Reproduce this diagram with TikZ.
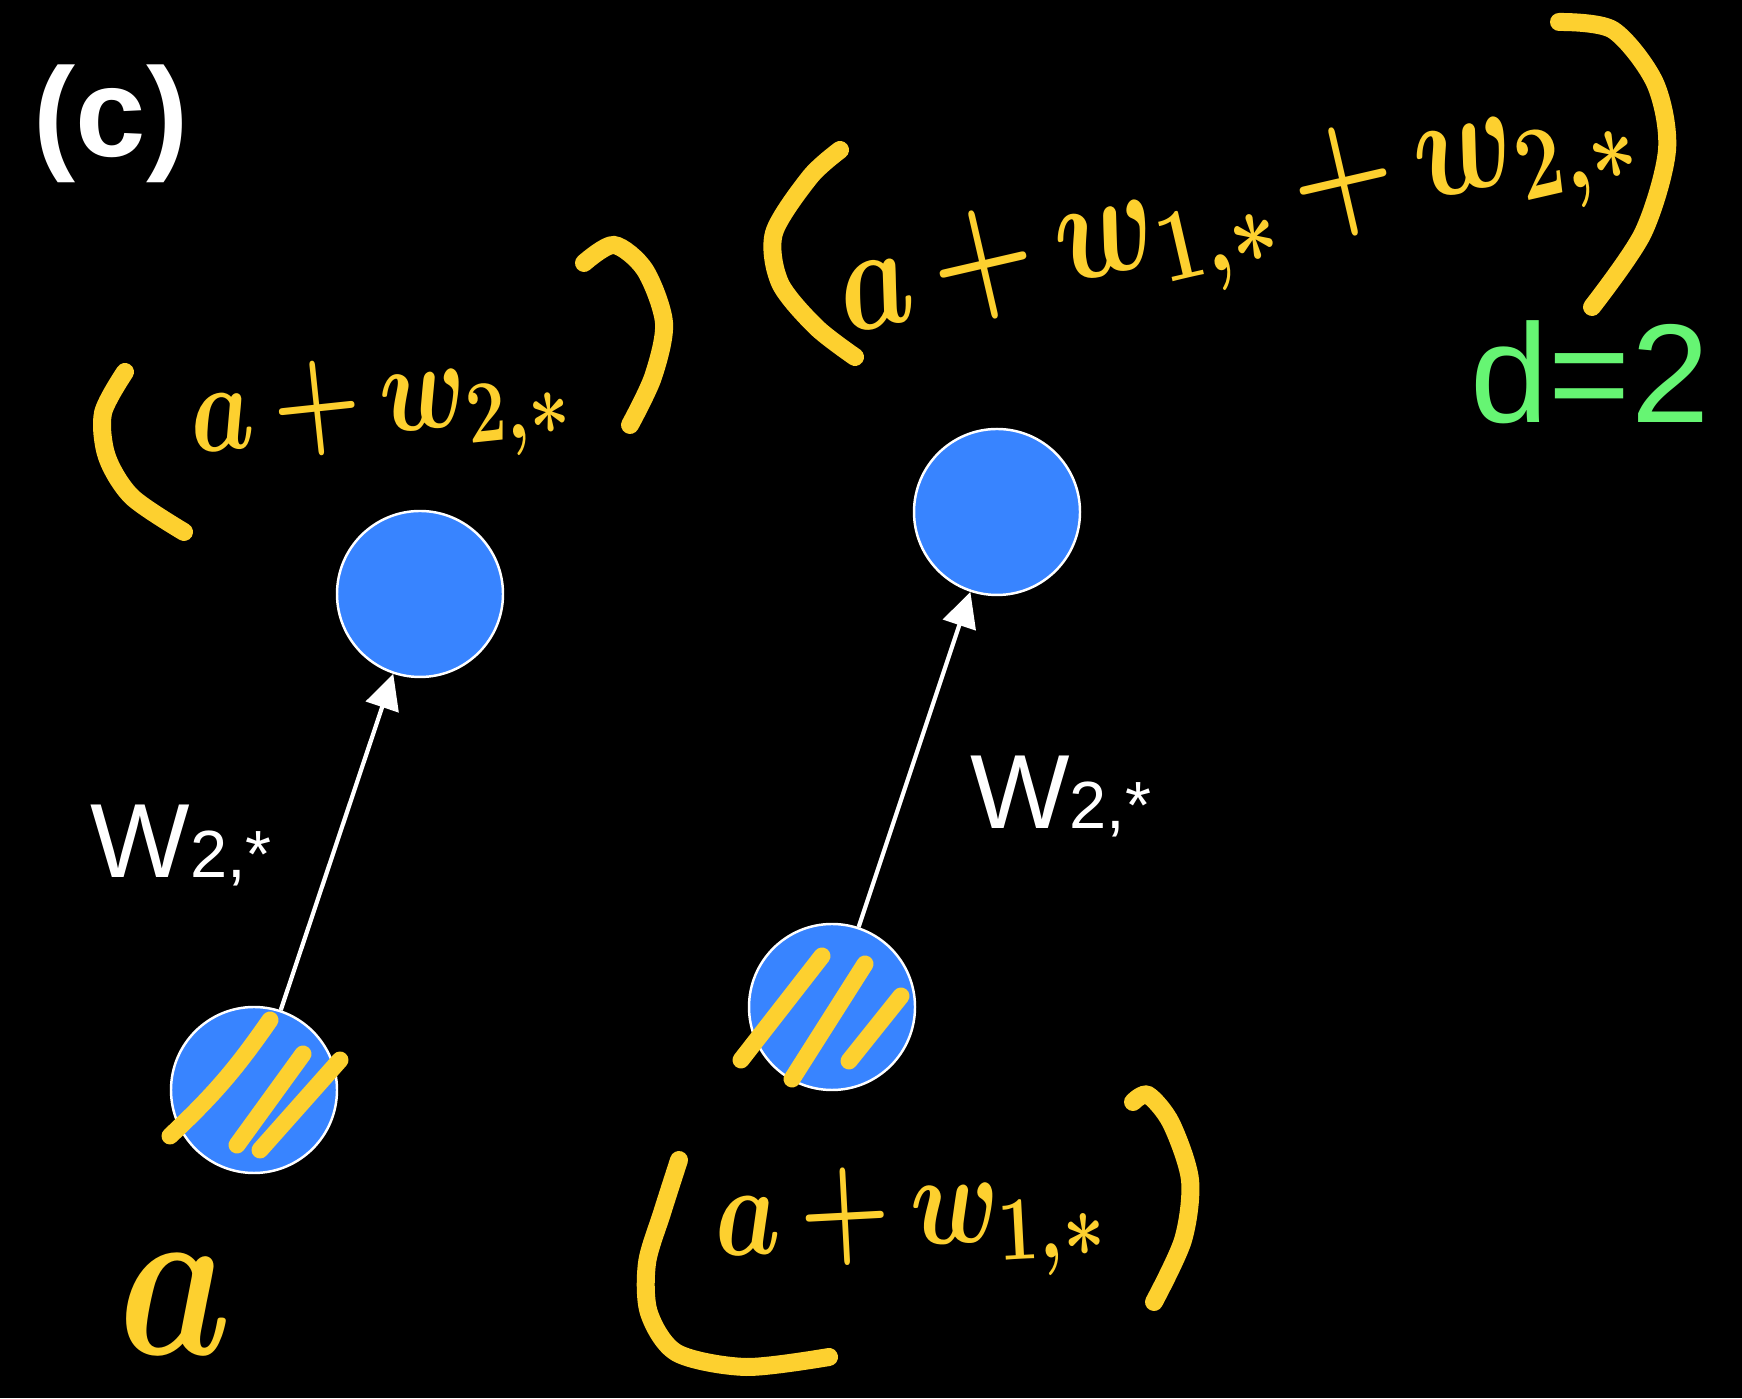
\RequirePackage{fix-cm}
\documentclass[tikz,border=0pt]{standalone}
\usepackage{fontspec}
\usepackage{graphicx}
\usetikzlibrary{positioning, arrows.meta}
\newfontfamily\keyfont{Liberation Sans}
\definecolor{cUNIT}{HTML}{3884FF}
\definecolor{cHAND}{HTML}{FDD02F}
\definecolor{cDIM}{HTML}{66F573}
\tikzset{
  unit/.style={
    circle, draw=white, line width=0.7pt,
    fill=cUNIT,
    minimum size=1.66cm,
    inner sep=0pt,
    on grid
  },
  link/.style={
    -{Triangle[length=3.5mm,width=3.4mm]},
    line width=1.2pt,
    draw=white
  },
  wlabel/.style={
    text=white,
    font=\keyfont\fontsize{30}{30}\selectfont,
    inner sep=0pt
  },
  hand/.style={
    text=cHAND,
    inner sep=0pt
  },
  hatch/.style={
    draw=cHAND, line width=0.17cm,
    line cap=round
  },
  paren/.style={
    hatch, line width=0.18cm
  }
}
\newcommand{\scrawl}[2]{\fontsize{#1}{#1}\selectfont\scalebox{0.8}[1]{\boldmath$#2$}}
\newcommand{\wsub}{W{\fontsize{19}{19}\selectfont 2,*}}

\begin{document}
\begin{tikzpicture}
  \fill[black] (0,0) rectangle (17.42,13.98);
  \useasboundingbox (0,0) rectangle (17.42,13.98);

  \node[anchor=base west, text=white, inner sep=0pt,
        font=\keyfont\bfseries\fontsize{36}{36}\selectfont] (tag) at (0.33,12.41) {(c)};
  \node[anchor=base west, text=cDIM, inner sep=0pt,
        font=\keyfont\fontsize{40}{40}\selectfont] (dim) at (14.70,9.75) {d=2};

  % units
  \node[unit] (bl) at (2.54,3.08) {};
  \node[unit, above right=4.96cm and 1.66cm of bl] (tl) {};
  \node[unit, above right=0.83cm and 5.78cm of bl] (br) {};
  \node[unit, above right=4.95cm and 1.65cm of br] (tr) {};

  \draw[link] (bl) -- node[wlabel, pos=0.49, left=0.62cm] (wl) {\wsub} (tl);
  \draw[link] (br) -- node[wlabel, pos=0.39, right=0.66cm] (wr) {\wsub} (tr);

  % hatching on the shifted inputs
  \draw[hatch] (1.70,2.62) to[bend right=6] (2.70,3.78);
  \draw[hatch] (2.37,2.53) -- (3.03,3.44);
  \draw[hatch] (2.60,2.48) -- (3.40,3.38);
  \draw[hatch] (7.41,3.38) -- (8.22,4.42);
  \draw[hatch] (7.92,3.19) -- (8.65,4.34);
  \draw[hatch] (8.49,3.37) -- (9.01,4.02);

  % handwritten notes
  \node[hand, rotate=6] (n1) at (3.80,9.86) {\scrawl{36}{a\,{+}\,w_{2,*}}};
  \draw[paren] plot[smooth] coordinates {(1.25,10.26) (1.03,9.85) (1.07,9.41) (1.32,9.01) (1.84,8.66)};
  \draw[paren] plot[smooth] coordinates {(5.84,11.35) (6.14,11.53) (6.45,11.28) (6.64,10.75) (6.53,10.21) (6.30,9.73)};

  \node[hand, rotate=13] (n2) at (12.37,11.79) {\scrawl{42}{a\,{+}\,w_{1,*}\,{+}\,w_{2,*}}};
  \draw[paren] plot[smooth] coordinates {(8.40,12.48) (8.10,12.21) (7.74,11.65) (7.80,11.15) (8.16,10.71) (8.55,10.41)};
  \draw[paren] plot[smooth] coordinates {(15.59,13.76) (16.13,13.68) (16.55,13.15) (16.67,12.48) (16.43,11.65) (15.92,10.91)};

  \node[hand, rotate=3] (n3) at (9.10,1.74) {\scrawl{37}{a\,{+}\,w_{1,*}}};
  \draw[paren] plot[smooth] coordinates {(6.79,2.38) (6.62,1.85) (6.47,1.35) (6.49,0.85) (6.77,0.45) (7.46,0.31) (8.29,0.41)};
  \draw[paren] plot[smooth] coordinates {(11.33,2.96) (11.48,3.03) (11.71,2.75) (11.90,2.18) (11.83,1.58) (11.54,0.96)};

  \node[hand] (n0) at (1.75,0.93) {\scrawl{64}{a}};
\end{tikzpicture}
\end{document}
